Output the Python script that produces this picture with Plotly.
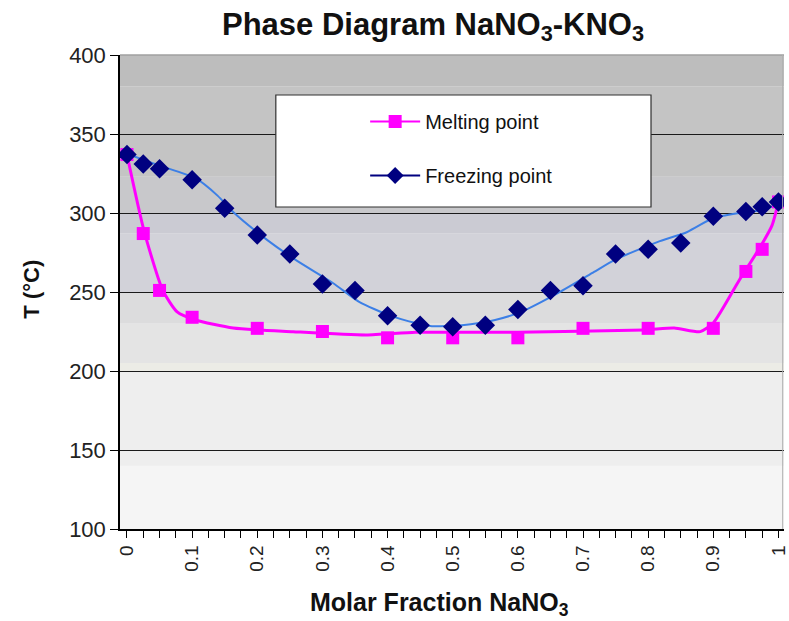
import plotly.graph_objects as go

# ---- data ----
melt_x = [0, 0.025, 0.05, 0.1, 0.2, 0.3, 0.4, 0.5, 0.6, 0.7, 0.8, 0.9, 0.95, 0.975, 1.0]
melt_y = [337, 287, 251, 234, 227, 225, 221, 221, 221, 227, 227, 227, 263, 277, 307]

freeze_x = [0, 0.025, 0.05, 0.1, 0.15, 0.2, 0.25, 0.3, 0.35, 0.4, 0.45, 0.5, 0.55,
            0.6, 0.65, 0.7, 0.75, 0.8, 0.85, 0.9, 0.95, 0.975, 1.0]
freeze_y = [337, 331, 328, 321, 303, 286, 274, 255, 251, 235, 229, 228, 229,
            239, 251, 254, 274, 277, 281, 298, 301, 304, 307]

# smoothed curves drawn through the points
melt_curve_x = [0, 0.026, 0.055, 0.077, 0.105, 0.163, 0.255, 0.367, 0.443, 0.6,
                0.794, 0.84, 0.88, 0.9, 0.94, 0.971, 0.99, 1.0]
melt_curve_y = [337, 289, 251, 237.4, 232.3, 227.2, 224.9, 222.8, 224.5, 224.5,
                226, 227.2, 224.9, 230.4, 257.6, 277.8, 292, 307]

freeze_curve_x = [0.005, 0.05, 0.105, 0.139, 0.163, 0.215, 0.26, 0.316, 0.357, 0.402,
                  0.443, 0.468, 0.514, 0.565, 0.605, 0.662, 0.717, 0.748, 0.814,
                  0.86, 0.9, 0.94, 0.977, 1.0]
freeze_curve_y = [336.7, 330, 322, 311, 300.6, 283, 270, 255.7, 243.6, 235.4,
                  230.4, 228.4, 229, 232.3, 237.4, 249.4, 262.7, 270.2, 281.6,
                  288, 296.8, 300, 302, 306]

x_tick_vals = [0, 0.1, 0.2, 0.3, 0.4, 0.5, 0.6, 0.7, 0.8, 0.9, 1.0]
x_tick_text = ["0", "0.1", "0.2", "0.3", "0.4", "0.5", "0.6", "0.7", "0.8", "0.9", "1"]
y_tick_vals = [100, 150, 200, 250, 300, 350, 400]

# background bands (T range, colour) imitating the gradient fill
bands = [
    (380, 400, "#bdbdbd"),
    (323, 380, "#c4c4c4"),
    (300, 323, "#c8c8cb"),
    (287, 300, "#cbcbd3"),
    (250, 287, "#d2d2d9"),
    (230, 250, "#dcdcdd"),
    (205, 230, "#e4e4e4"),
    (200, 205, "#ecece6"),
    (140, 200, "#eeeeee"),
    (100, 140, "#f5f5f5"),
]

MAGENTA = "#ff00ff"
NAVY = "#000080"
BLUE = "#3c7fe6"
FONT = "Liberation Sans, Arial, sans-serif"

L, R, T, B = 120, 0, 55, 92
PW, PH = 789 - L - R, 621 - T - B

fig = go.Figure()

# curves
fig.add_trace(go.Scatter(x=melt_curve_x, y=melt_curve_y, mode="lines",
                         line=dict(color=MAGENTA, width=3, shape="spline", smoothing=0.6),
                         showlegend=False, hoverinfo="skip"))
fig.add_trace(go.Scatter(x=freeze_curve_x, y=freeze_curve_y, mode="lines",
                         line=dict(color=BLUE, width=2, shape="spline", smoothing=0.6),
                         showlegend=False, hoverinfo="skip"))
# markers
fig.add_trace(go.Scatter(x=melt_x, y=melt_y, mode="markers",
                         marker=dict(symbol="square", size=13, color=MAGENTA),
                         showlegend=False, name="Melting point"))
fig.add_trace(go.Scatter(x=freeze_x, y=freeze_y, mode="markers",
                         marker=dict(symbol="diamond", size=15, color=NAVY),
                         showlegend=False, name="Freezing point"))
# legend entries
fig.add_trace(go.Scatter(x=[None], y=[None], mode="lines+markers", name="Melting point",
                         line=dict(color=MAGENTA, width=2),
                         marker=dict(symbol="square", size=13, color=MAGENTA),
                         legendgroup="a"))
fig.add_trace(go.Scatter(x=[None], y=[None], mode="lines+markers", name="Freezing point",
                         line=dict(color=NAVY, width=2),
                         marker=dict(symbol="diamond", size=13, color=NAVY),
                         legendgroup="b"))

shapes = []
for lo, hi, col in bands:
    shapes.append(dict(type="rect", xref="paper", yref="y", x0=0, x1=1, y0=lo, y1=hi,
                       fillcolor=col, line=dict(width=0), layer="below"))
# top / right light border
shapes.append(dict(type="line", xref="paper", yref="paper", x0=0, x1=1, y0=1, y1=1,
                   line=dict(color="#a0a0a0", width=1.5), layer="above"))
shapes.append(dict(type="line", xref="paper", yref="paper", x0=0.998, x1=0.998, y0=0, y1=1,
                   line=dict(color="#b0b0b0", width=1), layer="above"))
# legend box
shapes.append(dict(type="rect", xref="paper", yref="paper",
                   x0=(277 - L) / PW, x1=(655 - L) / PW,
                   y0=(621 - B - 207) / PH, y1=(621 - B - 95) / PH, fillcolor="white",
                   line=dict(color="#303030", width=1.2), layer="above"))

fig.update_layout(
    width=789, height=621,
    margin=dict(l=L, r=R, t=T, b=B),
    paper_bgcolor="white",
    plot_bgcolor="#eeeeee",
    font=dict(family=FONT, color="#222222"),
    title=dict(text="<b>Phase Diagram NaNO<sub>3</sub>-KNO<sub>3</sub></b>",
               font=dict(size=31, family=FONT, color="#111111"),
               x=433 / 789, xref="container", xanchor="center",
               y=1 - 24 / 621, yref="container", yanchor="middle"),
    shapes=shapes,
    showlegend=True,
    legend=dict(x=(367 - L) / PW, xanchor="left", y=(621 - B - 102) / PH, yanchor="top",
                bgcolor="rgba(0,0,0,0)", borderwidth=0,
                font=dict(size=20, family=FONT, color="#111111"),
                tracegroupgap=25, itemwidth=50),
    xaxis=dict(range=[-0.0107, 1.0085], tickvals=x_tick_vals, ticktext=x_tick_text,
               tickangle=-90, ticks="outside", ticklen=7, tickcolor="#000000",
               ticklabeloverflow="allow",
               tickfont=dict(size=19, family=FONT, color="#222222"),
               showgrid=False, zeroline=False, showline=True,
               linecolor="#000000", linewidth=1.5,
               minor=dict(dtick=0.025, tick0=0, ticks="outside", ticklen=7,
                          tickcolor="#000000", showgrid=False)),
    yaxis=dict(range=[100, 400], tickvals=y_tick_vals, ticks="outside", ticklen=8,
               tickcolor="#000000",
               tickfont=dict(size=22, family=FONT, color="#222222"),
               showgrid=True, gridcolor="#1a1a1a", gridwidth=1,
               zeroline=False, showline=True, linecolor="#000000", linewidth=1.5),
    annotations=[
        dict(text="<b>Molar Fraction NaNO<sub>3</sub></b>", xref="paper", yref="paper",
             x=(442 - L) / PW, y=-(604 - (621 - B)) / PH, xanchor="center", yanchor="middle",
             showarrow=False, font=dict(size=25, family=FONT, color="#111111")),
        dict(text="<b>T (°C)</b>", xref="paper", yref="paper",
             x=-(L - 30) / PW, y=((621 - B) - 289) / PH, xanchor="center", yanchor="middle",
             textangle=-90, showarrow=False,
             font=dict(size=22, family=FONT, color="#111111")),
    ],
)

fig.write_html("out.html", post_script="document.body.style.margin='0';",
               config={"displayModeBar": False})
